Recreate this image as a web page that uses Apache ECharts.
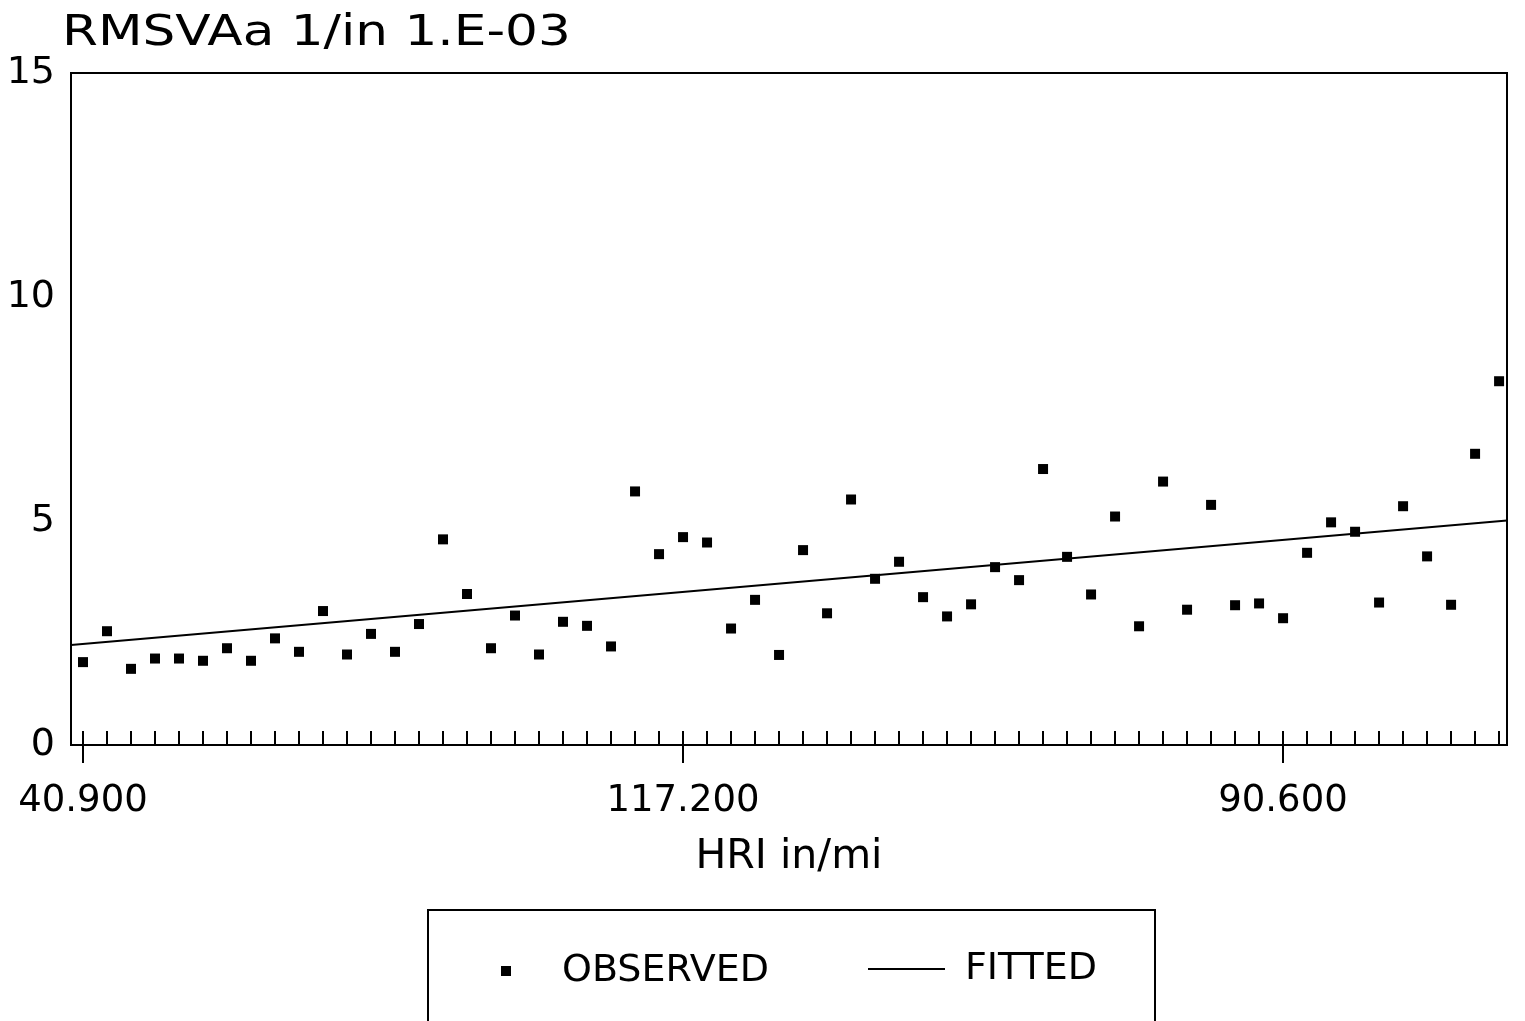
<!DOCTYPE html>
<html>
<head>
<meta charset="utf-8">
<script src="https://cdn.jsdelivr.net/npm/echarts@6/dist/echarts.min.js"></script>
<style>
html,body{margin:0;padding:0;background:#fff;}
#chart{width:1525px;height:1021px;}
</style>
</head>
<body>
<div id="chart"></div>
<script>
// ---- data ----
const titleText = 'RMSVAa 1/in 1.E-03';
const xAxisName = 'HRI in/mi';
const sectionIds = ['1','2','3','4','5','6','7','8','9','10','11','12','13','14','15','16','17','18','19','20',
  '21','22','23','24','25','26','27','28','29','30','31','32','33','34','35','36','37','38','39','40',
  '41','42','43','44','45','46','47','48','49','50','51','52','53','54','55','56','57','58','59','60'];
const tickLabelIndex = [0, 25, 50];
const tickLabels = ['40.900', '117.200', '90.600'];
const observed = [1.85, 2.54, 1.70, 1.93, 1.93, 1.88, 2.16, 1.88, 2.38, 2.08,
  2.99, 2.02, 2.48, 2.08, 2.70, 4.59, 3.37, 2.16, 2.89, 2.02,
  2.75, 2.66, 2.20, 5.66, 4.26, 4.64, 4.52, 2.60, 3.24, 2.01,
  4.35, 2.94, 5.48, 3.71, 4.09, 3.30, 2.87, 3.14, 3.97, 3.68,
  6.16, 4.20, 3.36, 5.10, 2.65, 5.88, 3.02, 5.36, 3.12, 3.16,
  2.83, 4.29, 4.97, 4.76, 3.18, 5.33, 4.21, 3.13, 6.50, 8.12];
const fittedX = [-0.5, 59.33];
const fittedY = [2.23, 5.01];
const yTicks = [0, 5, 10, 15];

const FONT = '"DejaVu Sans", "Liberation Sans", sans-serif';
const chart = echarts.init(document.getElementById('chart'));

const observedData = observed.map((v, i) => [i, v]);
const fittedData = fittedX.map((x, i) => [x, fittedY[i]]);

chart.setOption({
  backgroundColor: '#fff',
  animation: false,
  grid: [
    {left: 71, right: 18, top: 73, bottom: 276, show: true, borderColor: '#000', borderWidth: 2, backgroundColor: 'transparent'},
    {left: 83, right: 26, top: 73, bottom: 276, show: false}
  ],
  xAxis: [
    {type: 'value', gridIndex: 0, min: fittedX[0], max: fittedX[1], show: true,
     axisLine: {show: false}, axisTick: {show: false}, axisLabel: {show: false}, splitLine: {show: false},
     name: xAxisName, nameLocation: 'middle', nameGap: 92,
     nameTextStyle: {fontFamily: FONT, fontSize: 41, color: '#000', lineHeight: 40}},
    {type: 'category', gridIndex: 1, data: sectionIds, boundaryGap: false, position: 'bottom',
     axisLine: {show: false},
     axisTick: {show: true, inside: true, length: 14, interval: 0, lineStyle: {color: '#000', width: 2}},
     axisLabel: {show: false}, splitLine: {show: false}},
    {type: 'category', gridIndex: 1, data: sectionIds, boundaryGap: false, position: 'bottom',
     axisLine: {show: false},
     axisTick: {show: true, inside: false, length: 18, interval: 24, lineStyle: {color: '#000', width: 2}},
     axisLabel: {show: true, interval: 24, margin: 38, fontFamily: FONT, fontSize: 37, lineHeight: 36, color: '#000',
       formatter: (v, idx) => { const k = tickLabelIndex.indexOf(idx); return k >= 0 ? tickLabels[k] : ''; }},
     splitLine: {show: false}}
  ],
  yAxis: [
    {type: 'value', gridIndex: 0, min: yTicks[0], max: yTicks[yTicks.length - 1], interval: 5,
     axisLine: {show: false}, axisTick: {show: false}, splitLine: {show: false},
     axisLabel: {margin: 16, fontFamily: FONT, fontSize: 38, color: '#000'}},
    {type: 'value', gridIndex: 1, min: 0, max: 15, show: false}
  ],
  legend: [
    {data: [{name: 'OBSERVED', icon: 'rect'}], left: 501, top: 951, padding: 0, itemWidth: 10, itemHeight: 10,
     selectedMode: false, textStyle: {fontFamily: FONT, fontSize: 38, color: '#000', lineHeight: 40, padding: [0, 0, 0, 46]}},
    {data: [{name: 'FITTED', icon: 'path://M0 0H77V2H0Z'}], left: 868, top: 949, padding: 0, itemWidth: 77, itemHeight: 14,
     symbolKeepAspect: true,
     selectedMode: false, textStyle: {fontFamily: FONT, fontSize: 38, color: '#000', lineHeight: 40, padding: [0, 0, 0, 15]}}
  ],
  graphic: [
    {type: 'text', x: 62, y: 13, scaleX: 1.23, style: {text: titleText, font: '42px ' + FONT, fill: '#000'}},
    {type: 'rect', shape: {x: 428, y: 910, width: 727, height: 140}, style: {fill: 'none', stroke: '#000', lineWidth: 2}}
  ],
  series: [
    {name: 'OBSERVED', type: 'scatter', xAxisIndex: 0, yAxisIndex: 0, data: observedData,
     symbol: 'rect', symbolSize: 10, itemStyle: {color: '#000', opacity: 1}},
    {name: 'FITTED', type: 'line', xAxisIndex: 0, yAxisIndex: 0, data: fittedData,
     symbol: 'none', lineStyle: {color: '#000', width: 2}, itemStyle: {color: '#000'}}
  ]
});
</script>
</body>
</html>
